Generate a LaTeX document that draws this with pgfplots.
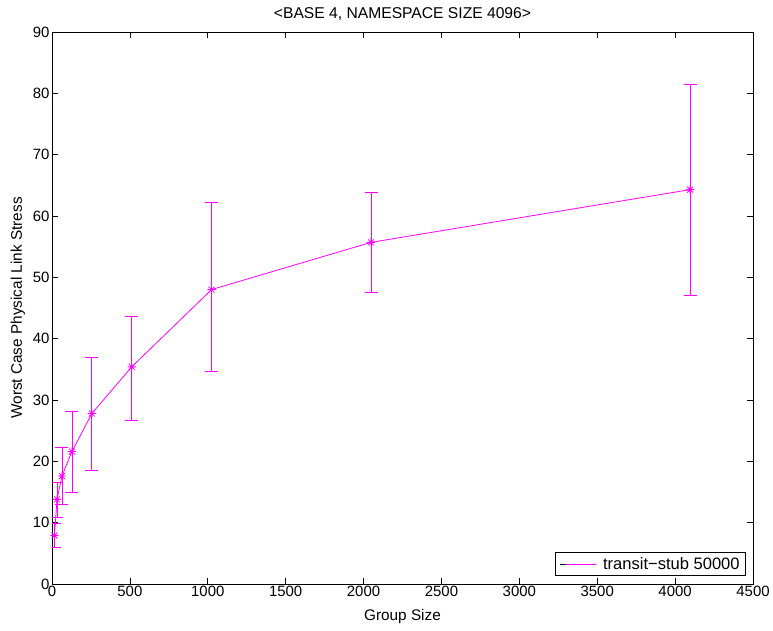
\documentclass[border=0pt]{standalone}
\usepackage{pgfplots}
\pgfplotsset{compat=1.18}
\usepackage{fontspec}
\setmainfont{Liberation Sans}
\definecolor{mag}{rgb}{1,0,1}
\pgfdeclareplotmark{mstar}{%
  \pgfpathmoveto{\pgfqpoint{-\pgfplotmarksize}{0pt}}\pgfpathlineto{\pgfqpoint{\pgfplotmarksize}{0pt}}%
  \pgfpathmoveto{\pgfqpoint{0pt}{-\pgfplotmarksize}}\pgfpathlineto{\pgfqpoint{0pt}{\pgfplotmarksize}}%
  \pgfpathmoveto{\pgfqpoint{-0.7071\pgfplotmarksize}{-0.7071\pgfplotmarksize}}\pgfpathlineto{\pgfqpoint{0.7071\pgfplotmarksize}{0.7071\pgfplotmarksize}}%
  \pgfpathmoveto{\pgfqpoint{-0.7071\pgfplotmarksize}{0.7071\pgfplotmarksize}}\pgfpathlineto{\pgfqpoint{0.7071\pgfplotmarksize}{-0.7071\pgfplotmarksize}}%
  \pgfusepathqstroke}
\begin{document}
\begin{tikzpicture}
\path[use as bounding box] (-52bp,-47bp) rectangle (721bp,584bp);
\begin{axis}[
  at={(0,0)}, anchor=south west,
  scale only axis, width=701bp, height=552bp,
  xmin=0, xmax=4500, ymin=0, ymax=90,
  xtick={0,500,...,4500}, ytick={0,10,...,90},
  tick align=inside, major tick length=6bp,
  axis line style={line width=0.9bp}, tick style={black, line width=0.6bp},
  every tick label/.append style={font=\fontsize{15}{17}\selectfont},
  yticklabel style={xshift=1bp},
  xticklabel style={/pgf/number format/1000 sep={}, yshift=1bp},
  /pgf/number format/assume math mode=true,
  scaled ticks=false,
  title={<BASE 4, NAMESPACE SIZE 4096>},
  every axis title/.style={font=\fontsize{15.7}{17}\selectfont, at={([yshift=18bp]axis description cs:0.5,1)}, anchor=center},
  xlabel={Group Size}, ylabel={Worst Case Physical Link Stress},
  label style={font=\fontsize{15.4}{17}\selectfont},
  xlabel style={at={([yshift=-33bp]axis description cs:0.5,0)}, anchor=center},
  ylabel style={at={([xshift=-34bp]axis description cs:0,0.5)}, anchor=center},
  legend style={at={(1,0)}, xshift=-7bp, yshift=8bp, anchor=south east,
    draw=black, line width=0.7bp, font=\fontsize{16.6}{18}\selectfont,
    inner xsep=4bp, inner ysep=3bp},
  legend cell align=left,
]
\addplot[color=mag, line width=0.8bp, mark=mstar, mark size=4.2bp,
  mark options={solid},
  error bars/.cd, y dir=both, y explicit,
  error bar style={mag, line width=0.8bp},
  error mark options={rotate=90, mark size=6.5bp, mag, line width=0.8bp}]
table[x=x, y=y, y error plus=ep, y error minus=em] {
x    y    ep   em
16   7.9  2.0  1.9
32   13.8 2.8  2.9
64   17.6 4.6  4.55
128  21.6 6.5  6.6
256  27.8 9.2  9.2
512  35.4 8.2  8.8
1024 48.0 14.2 13.4
2048 55.7 8.2  8.2
4096 64.3 17.1 17.3
};
\addlegendimage{legend image code/.code={\path (-6bp,0)--(30bp,0); \draw[mag, line width=0.8bp] (0bp,0)--(30bp,0);}}
\legend{,\hspace{5bp}transit\textminus stub 50000}
\end{axis}
\end{tikzpicture}
\end{document}
